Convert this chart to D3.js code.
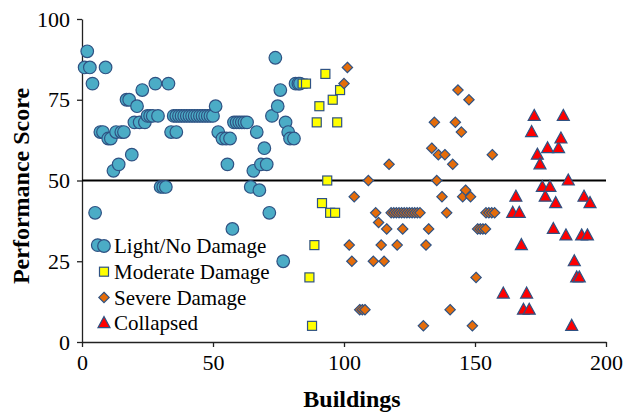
<!DOCTYPE html>
<html>
<head>
<meta charset="utf-8">
<script src="https://cdn.jsdelivr.net/npm/d3@7"></script>
<style>
    body { margin: 0; background: #fff; }
    svg text { font-family: "Liberation Serif", "Times New Roman", serif; fill: #000; }
</style>
</head>
<body>
<svg id="chart" width="628" height="416"></svg>
<script>
// Points as [building, score]
let lightPoints = [
    [1, 85], [2, 90], [3, 85], [4, 80], [5, 40], [6, 30], [7, 65], [8, 65], [9, 85],
    [10, 63], [11, 63], [12, 53], [13, 65], [14, 55], [15, 65], [16, 65], [17, 75], [18, 75],
    [19, 58], [20, 68], [21, 73], [22, 68], [23, 78], [24, 68], [25, 70], [26, 70], [27, 70],
    [28, 80], [29, 70], [30, 48], [31, 48], [32, 48], [33, 80], [34, 65], [36, 65],
    [35, 70], [36, 70], [37, 70], [38, 70], [39, 70], [40, 70], [41, 70], [42, 70], [43, 70],
    [44, 70], [45, 70], [46, 70], [47, 70], [48, 70], [49, 70], [50, 70],
    [51, 73], [52, 65], [53.6, 63], [55, 63], [56.5, 63], [55.5, 55], [57.4, 35],
    [58, 68], [59, 68], [60, 68], [61, 68], [62, 68], [63, 68],
    [64.4, 48], [65.4, 53], [66.7, 65], [67.7, 47], [68.3, 55], [69.6, 60], [70.5, 55],
    [71.5, 40], [72.5, 70], [73.8, 88], [74.7, 73], [75.7, 78], [76.8, 25], [77.7, 68],
    [78.7, 65], [79.4, 63], [80.9, 63], [81.5, 80], [82.6, 80], [83.2, 80]
];
let moderatePoints = [
    [84.2, 80], [85.5, 80], [86.8, 20], [87.8, 5], [88.7, 30], [89.6, 68], [90.6, 73],
    [91.6, 43], [92.9, 83], [93.6, 50], [94.7, 40], [95.7, 75], [96.6, 40], [97.4, 68], [98.5, 78]
];
let severePoints = [
    [100, 80], [101.3, 85], [102, 30], [103, 25], [103.9, 45], [106, 10], [107, 10], [108, 10],
    [109.3, 50], [111.2, 25], [112.1, 40], [113.2, 37], [114.2, 30], [115.3, 25], [116.3, 35],
    [117.2, 55], [118, 40], [119, 40], [120, 40], [121, 40], [122, 40], [123, 40], [124, 40],
    [125, 40], [126, 40], [127, 40], [128, 40], [129, 40], [120.3, 30], [122.4, 35], [130.3, 5],
    [131.3, 30], [132.3, 35], [133.5, 60], [134.5, 68], [135.4, 50], [136, 58], [137.4, 45],
    [138.5, 58], [139.2, 40], [140.5, 10], [141.5, 55], [142.5, 68], [143.5, 78], [144.8, 65],
    [145.3, 45], [146.4, 47], [147.7, 75], [148.3, 45], [149, 5], [150.4, 20],
    [151, 35], [152, 35], [153, 35], [154, 35], [154.2, 40], [155.3, 40], [156.4, 40],
    [157.5, 40], [156.6, 58]
];
let collapsedPoints = [
    [160.8, 15], [164.4, 40], [165.6, 45], [166.9, 40], [167.7, 30], [168.5, 10], [169.7, 15],
    [170.7, 10], [171.6, 65], [172.6, 70], [173.8, 58], [174.8, 55], [175.7, 48], [176.8, 45],
    [177.7, 60], [178.6, 48], [179.9, 35], [180.8, 43], [181.9, 60], [182.8, 63], [183.7, 70],
    [184.7, 33], [185.6, 50], [186.9, 5], [187.9, 25], [188.8, 20], [189.8, 20], [190.7, 33],
    [191.6, 45], [192.9, 33], [193.9, 43]
];

let xTicks = [0, 50, 100, 150, 200];
let yTicks = [0, 25, 50, 75, 100];
let seriesNames = ["Light/No Damage", "Moderate Damage", "Severe Damage", "Collapsed"];
let thresholdScore = 50;

let serif = "'Liberation Serif', 'Times New Roman', serif";
let svg = d3.select("#chart");

let margin = {left: 82, right: 22, top: 19, bottom: 74};
let width = 628 - margin.left - margin.right;
let height = 416 - margin.top - margin.bottom;

let xScale = d3.scaleLinear().domain([0, 200]).range([0, width]);
let yScale = d3.scaleLinear().domain([0, 100]).range([height, 0]);

let g = svg.append("g")
    .attr("transform", "translate(" + margin.left + "," + margin.top + ")");

// axes
let xAxis = d3.axisBottom(xScale).tickValues(xTicks).tickSize(5).tickSizeOuter(0).tickPadding(7);
let yAxis = d3.axisLeft(yScale).tickValues(yTicks).tickSize(5).tickSizeOuter(0).tickPadding(7);

let gx = g.append("g")
    .attr("transform", "translate(0," + height + ")")
    .call(xAxis);
let gy = g.append("g").call(yAxis);

[gx, gy].forEach(function (a) {
    a.attr("font-family", serif);
    a.selectAll("path, line").attr("stroke", "#222").attr("stroke-width", 1.3);
    a.selectAll("text")
        .attr("font-family", serif)
        .style("font-family", serif)
        .style("font-size", "22px")
        .attr("fill", "#000");
});

// threshold line at 50
g.append("line")
    .attr("x1", xScale(0))
    .attr("x2", xScale(200))
    .attr("y1", yScale(thresholdScore))
    .attr("y2", yScale(thresholdScore))
    .attr("stroke", "#000")
    .attr("stroke-width", 2.2);

// marker painters
let strokeColor = "#2f5283";
let markers = [
    {fill: "#4bacc6", draw: function (sel) {
        return sel.append("circle").attr("r", 6.3);
    }},
    {fill: "#ffff00", draw: function (sel) {
        return sel.append("rect").attr("x", -4.5).attr("y", -4.5).attr("width", 9).attr("height", 9);
    }},
    {fill: "#e46c0a", draw: function (sel) {
        return sel.append("path").attr("d", d3.symbol().type(d3.symbolDiamond2).size(68));
    }},
    {fill: "#ff0000", draw: function (sel) {
        return sel.append("path").attr("d", "M0,-6.5L6,4.5L-6,4.5Z");
    }}
];

let allSeries = [lightPoints, moderatePoints, severePoints, collapsedPoints];

allSeries.forEach(function (points, i) {
    let m = markers[i];
    let pts = g.append("g").selectAll("g")
        .data(points)
        .enter()
        .append("g")
        .attr("transform", function (d) {
            return "translate(" + xScale(d[0]) + "," + yScale(d[1]) + ")";
        });
    m.draw(pts)
        .attr("fill", m.fill)
        .attr("stroke", strokeColor)
        .attr("stroke-width", 1.2);
});

// legend
let legend = g.append("g").attr("transform", "translate(22,227)");
seriesNames.forEach(function (name, i) {
    let row = legend.append("g").attr("transform", "translate(0," + (i * 25.7) + ")");
    markers[i].draw(row)
        .attr("fill", markers[i].fill)
        .attr("stroke", strokeColor)
        .attr("stroke-width", 1.2);
    row.append("text")
        .attr("x", 10)
        .attr("dy", "0.35em")
        .style("font-family", serif)
        .style("font-size", "21px")
        .text(name);
});

// axis titles
svg.append("text")
    .attr("x", 352)
    .attr("y", 407)
    .attr("text-anchor", "middle")
    .style("font-family", serif)
    .style("font-size", "24px")
    .style("font-weight", "bold")
    .text("Buildings");

svg.append("text")
    .attr("transform", "translate(29,186) rotate(-90)")
    .attr("text-anchor", "middle")
    .style("font-family", serif)
    .style("font-size", "24px")
    .style("font-weight", "bold")
    .text("Performance Score");
</script>
</body>
</html>
